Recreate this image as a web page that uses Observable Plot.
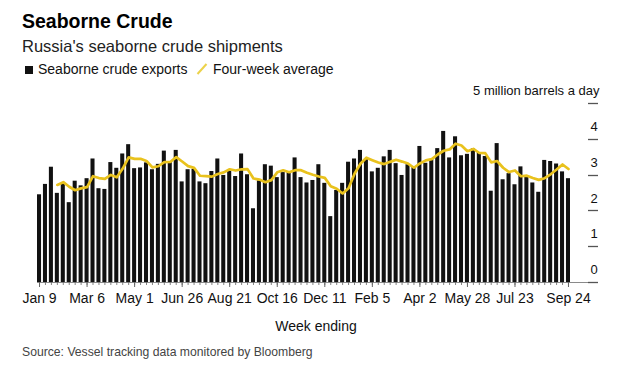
<!DOCTYPE html>
<html>
<head>
<meta charset="utf-8">
<script src="https://cdn.jsdelivr.net/npm/d3@7"></script>
<script src="https://cdn.jsdelivr.net/npm/@observablehq/plot@0.6"></script>
<style>
  html, body { margin: 0; padding: 0; background: #fff; }
  #wrap { position: relative; width: 620px; height: 368px; overflow: hidden;
          font-family: "Liberation Sans", Arial, sans-serif; }
  #wrap > svg:first-child { position: absolute; left: 0; top: 0; }
  .t { position: absolute; white-space: nowrap; line-height: 1; z-index: 2; }
</style>
</head>
<body>
<div id="wrap">
  <div class="t" style="left:22px;top:11.5px;font-size:19.5px;font-weight:bold;color:#000;">Seaborne Crude</div>
  <div class="t" style="left:22px;top:38px;font-size:16.5px;color:#222;">Russia's seaborne crude shipments</div>
  <div class="t" style="left:25px;top:66px;width:8px;height:8px;background:#111;"></div>
  <div class="t" style="left:38px;top:62px;font-size:14px;color:#111;">Seaborne crude exports</div>
  <svg class="t" style="left:196px;top:63px;" width="12" height="12"><line x1="1.5" y1="11" x2="10.5" y2="1" stroke="#ecd24a" stroke-width="2"/></svg>
  <div class="t" style="left:213px;top:62px;font-size:14px;color:#111;">Four-week average</div>
  <div class="t" style="left:316px;top:319px;font-size:14px;color:#111;transform:translateX(-50%);">Week ending</div>
  <div class="t" style="left:22px;top:345.7px;font-size:12.2px;color:#444;">Source: Vessel tracking data monitored by Bloomberg</div>
</div>
<script>
// Weekly Russian seaborne crude exports, million barrels a day (week ending Sundays)
const firstWeek = "2022-01-09";
const lastWeekExclusive = "2023-09-25";
const exportsMbd = [
  2.45, 2.74, 3.22, 2.49, 2.76, 2.23, 2.83, 2.70, 2.90, 3.45,
  2.62, 2.60, 3.35, 3.19, 3.59, 3.85, 3.18, 3.20, 3.34, 3.15,
  3.30, 3.67, 3.35, 3.69, 2.81, 3.15, 3.16, 2.81, 2.76, 3.10,
  3.45, 2.99, 3.11, 2.96, 3.59, 3.01, 2.06, 2.84, 3.29, 3.25,
  2.93, 3.07, 3.07, 3.48, 2.93, 2.78, 2.85, 3.29, 2.77, 1.84,
  2.57, 2.77, 3.36, 3.45, 3.69, 3.44, 3.09, 3.19, 3.51, 3.69,
  3.32, 2.99, 3.29, 3.22, 3.80, 3.33, 3.43, 3.74, 4.22, 3.48,
  4.07, 3.54, 3.58, 3.73, 3.62, 3.52, 2.55, 3.88, 2.87, 3.04,
  2.73, 3.23, 2.94, 2.78, 2.52, 3.41, 3.38, 3.31, 3.09, 2.90
];
const xTickWeeks = ["2022-01-09","2022-03-06","2022-05-01","2022-06-26","2022-08-21","2022-10-16",
                    "2022-12-11","2023-02-05","2023-04-02","2023-05-28","2023-07-23","2023-09-24"];
const yTicks = [0, 1, 2, 3, 4];
const yTop = 5;
const yUnitLabel = "5 million barrels a day";
const averageWindow = 4;

const fmtKey = d3.utcFormat("%Y-%m-%d");
const parseKey = d3.utcParse("%Y-%m-%d");
const fmtTick = d3.utcFormat("%b %-d");
const weeks = d3.utcWeek.range(new Date(firstWeek), new Date(lastWeekExclusive)).map(fmtKey);
const data = weeks.map((w, i) => ({week: w, value: exportsMbd[i]}));

const W = 620, ML = 37, MR = 22, TICK = 10;
// right-edge tick dashes, positioned through Plot's own y scale
const yTickDashes = (index, scales, values, dims) => {
  const g = d3.create("svg:g").attr("stroke", "#555").attr("stroke-width", 1.3);
  const xr = dims.width - dims.marginRight;
  for (const v of [...yTicks, yTop]) {
    const yy = Math.round(scales.y(v)) + 0.5;
    g.append("line").attr("x1", xr - TICK).attr("x2", xr).attr("y1", yy).attr("y2", yy);
  }
  return g.node();
};
const chart = Plot.plot({
  width: W,
  height: 368,
  marginTop: 103,
  marginBottom: 86,
  marginLeft: ML,
  marginRight: MR,
  style: {fontFamily: '"Liberation Sans", Arial, sans-serif', background: "transparent", color: "#111"},
  x: {type: "band", domain: weeks, paddingInner: 0.32, paddingOuter: 0, insetRight: 28, axis: null},
  y: {domain: [0, yTop], axis: null},
  marks: [
    Plot.barY(data, {x: "week", y: "value", fill: "#111"}),
    Plot.ruleY([0], {stroke: "#8a8a8a", strokeWidth: 1}),
    Plot.axisX({ticks: weeks, tickSize: 3, stroke: "#666", strokeWidth: 0.8,
                tickFormat: () => "", label: null}),
    Plot.axisX({ticks: xTickWeeks, tickSize: 5, tickPadding: 6, stroke: "#666",
                tickFormat: s => fmtTick(parseKey(s)), fontSize: 14, label: null, fill: "#111"}),
    Plot.lineY(data, Plot.windowY({k: averageWindow, anchor: "end", strict: true},
      {x: "week", y: "value", stroke: "#e9c21d", strokeWidth: 2.7, strokeLinejoin: "round"})),
    yTickDashes,
    Plot.text(yTicks, {y: d => d, text: d => String(d), frameAnchor: "right",
                       textAnchor: "middle", dx: -4.5, dy: -12.5, fontSize: 13, fill: "#111"}),
    Plot.text([yTop], {y: d => d, text: () => yUnitLabel, frameAnchor: "right",
                       textAnchor: "end", dx: 1, dy: -12.5, fontSize: 13, fill: "#111"})
  ]
});
document.getElementById("wrap").prepend(chart);
</script>
</body>
</html>
